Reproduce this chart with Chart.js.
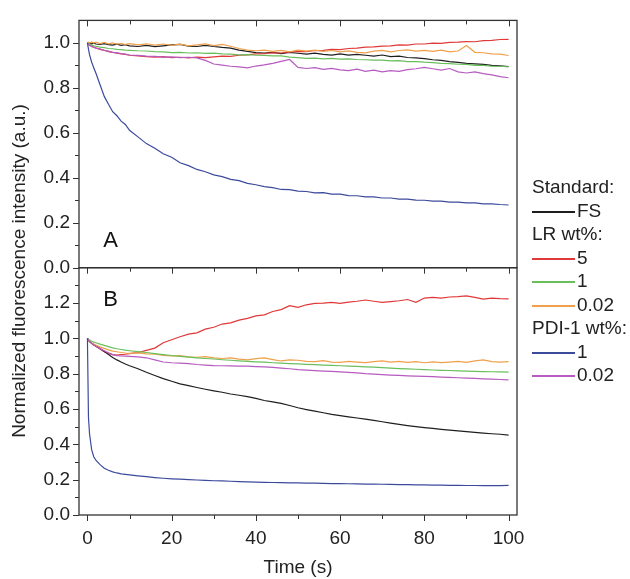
<!DOCTYPE html>
<html>
<head>
<meta charset="utf-8">
<script src="https://cdn.jsdelivr.net/npm/chart.js@4"></script>
<style>
  html, body { margin: 0; padding: 0; background: #fff; }
  #wrap { position: relative; width: 630px; height: 579px; }
  #legend { position: absolute; left: 532px; top: 175px; font: 19px 'Liberation Sans', Arial, sans-serif; color: #222; }
  #legend .row { position: absolute; left: 0; white-space: nowrap; height: 24px; line-height: 24px; }
  #legend .item { padding-left: 45px; }
  #legend .swatch { position: absolute; left: 0; top: 12px; width: 43px; height: 2px; }
</style>
</head>
<body>
<div id="wrap">
  <canvas id="fluoChart" width="630" height="579"></canvas>
  <div id="legend"></div>
</div>
<script>
// time axis (s)
const time = [0, 0.25, 0.5, 1, 1.5, 2, 3, 4, 5, 6, 7, 8, 9, 10,
    12, 14, 16, 18, 20, 22, 24, 26, 28, 30,
    32, 34, 36, 38, 40, 42, 44, 46, 48, 50,
    52, 54, 56, 58, 60, 62, 64, 66, 68, 70,
    72, 74, 76, 78, 80, 82, 84, 86, 88, 90,
    92, 94, 96, 98, 100];

// Panel A
const aFS = [1.000, 1.001, 0.998, 0.996, 0.999, 0.995, 0.993, 0.997, 0.992, 0.990, 0.994, 0.989, 0.992, 0.987,
    0.984, 0.989, 0.983, 0.987, 0.991, 0.993, 0.986, 0.984, 0.989, 0.984,
    0.980, 0.977, 0.968, 0.962, 0.957, 0.955, 0.958, 0.952, 0.958, 0.954,
    0.950, 0.954, 0.949, 0.946, 0.951, 0.946, 0.949, 0.945, 0.941, 0.946,
    0.939, 0.941, 0.935, 0.933, 0.930, 0.925, 0.922, 0.917, 0.913, 0.909,
    0.907, 0.904, 0.900, 0.898, 0.895];
const aLR5 = [1.000, 0.995, 0.990, 0.986, 0.981, 0.978, 0.971, 0.967, 0.961, 0.958, 0.954, 0.951, 0.949, 0.945,
    0.942, 0.939, 0.937, 0.939, 0.934, 0.936, 0.933, 0.937, 0.934, 0.938,
    0.941, 0.940, 0.945, 0.947, 0.951, 0.952, 0.956, 0.955, 0.960, 0.962,
    0.961, 0.966, 0.967, 0.971, 0.970, 0.975, 0.977, 0.981, 0.982, 0.986,
    0.987, 0.991, 0.990, 0.995, 0.995, 0.999, 0.998, 1.002, 1.003, 1.006,
    1.005, 1.010, 1.011, 1.015, 1.016];
const aLR1 = [1.000, 0.996, 0.992, 0.990, 0.987, 0.985, 0.981, 0.979, 0.975, 0.974, 0.971, 0.970, 0.968, 0.967,
    0.965, 0.964, 0.961, 0.960, 0.957, 0.958, 0.955, 0.956, 0.953, 0.954,
    0.951, 0.950, 0.947, 0.948, 0.945, 0.944, 0.942, 0.942, 0.937, 0.934,
    0.931, 0.932, 0.929, 0.931, 0.928, 0.929, 0.926, 0.925, 0.923, 0.923,
    0.920, 0.921, 0.917, 0.917, 0.914, 0.912, 0.909, 0.908, 0.905, 0.904,
    0.900, 0.900, 0.896, 0.896, 0.893];
const aLR002 = [1.000, 1.003, 0.998, 1.004, 0.999, 1.003, 0.997, 1.002, 0.996, 1.000, 0.994, 0.998, 0.993, 0.997,
    0.991, 0.996, 0.990, 0.995, 0.989, 0.994, 0.987, 0.991, 0.996, 0.988,
    0.993, 0.985, 0.975, 0.968, 0.965, 0.968, 0.962, 0.967, 0.960, 0.968,
    0.963, 0.968, 0.962, 0.966, 0.960, 0.964, 0.958, 0.956, 0.963, 0.967,
    0.960, 0.966, 0.969, 0.963, 0.967, 0.962, 0.968, 0.960, 0.964, 0.988,
    0.958, 0.956, 0.951, 0.950, 0.944];
const aPDI1 = [1.000, 0.972, 0.948, 0.915, 0.889, 0.866, 0.814, 0.762, 0.727, 0.694, 0.676, 0.652, 0.637, 0.611,
    0.582, 0.552, 0.531, 0.507, 0.491, 0.467, 0.454, 0.437, 0.427, 0.413,
    0.405, 0.393, 0.387, 0.375, 0.369, 0.361, 0.356, 0.348, 0.347, 0.341,
    0.339, 0.333, 0.334, 0.327, 0.327, 0.321, 0.320, 0.315, 0.315, 0.310,
    0.310, 0.305, 0.305, 0.301, 0.300, 0.296, 0.296, 0.292, 0.292, 0.288,
    0.288, 0.284, 0.284, 0.281, 0.279];
const aPDI002 = [1.000, 0.993, 0.989, 0.983, 0.981, 0.976, 0.973, 0.966, 0.963, 0.958, 0.957, 0.952, 0.950, 0.946,
    0.944, 0.941, 0.940, 0.937, 0.938, 0.934, 0.936, 0.933, 0.922, 0.906,
    0.901, 0.896, 0.893, 0.889, 0.897, 0.902, 0.909, 0.918, 0.926, 0.891,
    0.886, 0.890, 0.882, 0.887, 0.880, 0.877, 0.883, 0.873, 0.879, 0.871,
    0.877, 0.873, 0.881, 0.885, 0.891, 0.885, 0.879, 0.886, 0.871, 0.866,
    0.871, 0.863, 0.858, 0.850, 0.845];

// Panel B
const bFS = [1.000, 0.990, 0.982, 0.972, 0.964, 0.957, 0.943, 0.925, 0.908, 0.892, 0.878, 0.866, 0.855, 0.845,
    0.828, 0.808, 0.790, 0.772, 0.757, 0.742, 0.732, 0.722, 0.712, 0.703,
    0.695, 0.685, 0.678, 0.670, 0.660, 0.648, 0.640, 0.632, 0.620, 0.607,
    0.597, 0.588, 0.579, 0.570, 0.563, 0.556, 0.549, 0.543, 0.536, 0.528,
    0.520, 0.513, 0.506, 0.500, 0.495, 0.490, 0.485, 0.480, 0.476, 0.472,
    0.468, 0.464, 0.460, 0.457, 0.452];
const bLR5 = [1.000, 0.990, 0.982, 0.972, 0.963, 0.955, 0.940, 0.925, 0.915, 0.908, 0.905, 0.908, 0.910, 0.914,
    0.920, 0.932, 0.945, 0.975, 0.992, 1.009, 1.024, 1.031, 1.052, 1.063,
    1.081, 1.088, 1.103, 1.113, 1.127, 1.133, 1.152, 1.163, 1.185, 1.176,
    1.190, 1.198, 1.200, 1.204, 1.198, 1.205, 1.210, 1.217, 1.210, 1.204,
    1.208, 1.213, 1.220, 1.204, 1.228, 1.232, 1.228, 1.234, 1.236, 1.240,
    1.232, 1.222, 1.228, 1.225, 1.224];
const bLR1 = [1.000, 0.995, 0.990, 0.984, 0.979, 0.975, 0.967, 0.960, 0.953, 0.946, 0.941, 0.937, 0.933, 0.930,
    0.925, 0.920, 0.914, 0.908, 0.903, 0.898, 0.894, 0.890, 0.886, 0.883,
    0.879, 0.876, 0.873, 0.870, 0.867, 0.865, 0.862, 0.860, 0.857, 0.855,
    0.853, 0.851, 0.849, 0.847, 0.845, 0.843, 0.841, 0.839, 0.837, 0.834,
    0.832, 0.829, 0.827, 0.825, 0.823, 0.821, 0.819, 0.818, 0.816, 0.815,
    0.813, 0.812, 0.811, 0.810, 0.809];
const bLR002 = [1.000, 0.990, 0.983, 0.975, 0.968, 0.962, 0.952, 0.943, 0.935, 0.928, 0.924, 0.920, 0.917, 0.915,
    0.918, 0.912, 0.910, 0.904, 0.900, 0.902, 0.895, 0.893, 0.897, 0.890,
    0.886, 0.889, 0.882, 0.878, 0.885, 0.889, 0.880, 0.872, 0.878, 0.876,
    0.870, 0.868, 0.874, 0.866, 0.864, 0.870, 0.866, 0.863, 0.868, 0.872,
    0.866, 0.870, 0.864, 0.868, 0.862, 0.867, 0.863, 0.866, 0.870, 0.864,
    0.872, 0.878, 0.868, 0.866, 0.868];
const bPDI1 = [1.000, 0.550, 0.460, 0.370, 0.330, 0.310, 0.285, 0.265, 0.253, 0.244, 0.238, 0.233, 0.230, 0.227,
    0.222, 0.217, 0.212, 0.208, 0.205, 0.203, 0.200, 0.198, 0.196, 0.194,
    0.193, 0.191, 0.189, 0.187, 0.186, 0.185, 0.184, 0.183, 0.182, 0.182,
    0.181, 0.180, 0.179, 0.178, 0.178, 0.177, 0.176, 0.175, 0.175, 0.174,
    0.173, 0.172, 0.172, 0.171, 0.170, 0.169, 0.169, 0.168, 0.168, 0.167,
    0.167, 0.166, 0.166, 0.166, 0.168];
const bPDI002 = [1.000, 0.990, 0.982, 0.972, 0.963, 0.955, 0.942, 0.930, 0.918, 0.908, 0.902, 0.900, 0.899, 0.898,
    0.895, 0.890, 0.878, 0.866, 0.862, 0.860, 0.857, 0.852, 0.849, 0.846,
    0.845, 0.844, 0.843, 0.843, 0.840, 0.838, 0.836, 0.832, 0.828, 0.823,
    0.820, 0.817, 0.815, 0.813, 0.810, 0.807, 0.805, 0.800, 0.798, 0.795,
    0.792, 0.790, 0.788, 0.786, 0.785, 0.783, 0.781, 0.779, 0.777, 0.775,
    0.773, 0.771, 0.769, 0.767, 0.765];

const xTicks = [0, 20, 40, 60, 80, 100];
const yTicksA = [0, 0.2, 0.4, 0.6, 0.8, 1.0];
const yTicksB = [0, 0.2, 0.4, 0.6, 0.8, 1.0, 1.2];

const colors = {
    fs: '#1e1e1e',
    lr5: '#e0393a',
    lr1: '#6abf5c',
    lr002: '#f0a04b',
    pdi1: '#3c4a9c',
    pdi002: '#b65bbf'
};

const legendGroups = [
    { title: 'Standard:', items: [['FS', colors.fs]] },
    { title: 'LR wt%:', items: [['5', colors.lr5], ['1', colors.lr1], ['0.02', colors.lr002]] },
    { title: 'PDI-1 wt%:', items: [['1', colors.pdi1], ['0.02', colors.pdi002]] }
];

const FONT = "'Liberation Sans', Arial, sans-serif";

function series(values, color, axis) {
    return {
        data: time.map((t, i) => ({ x: t, y: values[i] })),
        yAxisID: axis,
        borderColor: color,
        borderWidth: 1.2,
        pointRadius: 0,
        fill: false,
        tension: 0
    };
}

// frame, inward/outward ticks, panel letters and shared y title
const framePlugin = {
    id: 'framePlugin',
    afterDatasetsDraw(chart) {
        const ctx = chart.ctx;
        const x = chart.scales.x, yA = chart.scales.yA, yB = chart.scales.yB;
        const left = chart.chartArea.left, right = chart.chartArea.right;
        ctx.save();
        ctx.strokeStyle = '#333';
        ctx.lineWidth = 1.3;
        [yA, yB].forEach(s => ctx.strokeRect(left, s.top, right - left, s.bottom - s.top));

        ctx.lineWidth = 1;
        ctx.beginPath();
        for (let t = 0; t <= 100; t += 10) {
            const px = Math.round(x.getPixelForValue(t)) + 0.5;
            const len = t % 20 === 0 ? 6 : 4;
            ctx.moveTo(px, yA.top); ctx.lineTo(px, yA.top + len);
            ctx.moveTo(px, yB.top); ctx.lineTo(px, yB.top + len);
            ctx.moveTo(px, yB.bottom); ctx.lineTo(px, yB.bottom + len);
        }
        [[yA, 10], [yB, 13]].forEach(([s, n]) => {
            for (let k = 0; k <= n; k++) {
                const py = Math.round(s.getPixelForValue(k / 10)) + 0.5;
                const len = k % 2 === 0 ? 6 : 4;
                ctx.moveTo(left - len, py); ctx.lineTo(left, py);
            }
        });
        ctx.stroke();

        ctx.fillStyle = '#111';
        ctx.font = '22px ' + FONT;
        ctx.textAlign = 'center';
        ctx.textBaseline = 'middle';
        ctx.fillText('A', x.getPixelForValue(5.5), yA.getPixelForValue(0.117));
        ctx.fillText('B', x.getPixelForValue(5.5), yB.getPixelForValue(1.217));

        ctx.font = '19px ' + FONT;
        ctx.fillStyle = '#222';
        ctx.translate(20, 271);
        ctx.rotate(-Math.PI / 2);
        ctx.fillText('Normalized fluorescence intensity (a.u.)', 0, 0);
        ctx.restore();
    }
};

const fluoData = {
    datasets: [
        series(aPDI1, colors.pdi1, 'yA'),
        series(aPDI002, colors.pdi002, 'yA'),
        series(aLR1, colors.lr1, 'yA'),
        series(aLR002, colors.lr002, 'yA'),
        series(aLR5, colors.lr5, 'yA'),
        series(aFS, colors.fs, 'yA'),
        series(bPDI1, colors.pdi1, 'yB'),
        series(bPDI002, colors.pdi002, 'yB'),
        series(bLR1, colors.lr1, 'yB'),
        series(bLR002, colors.lr002, 'yB'),
        series(bFS, colors.fs, 'yB'),
        series(bLR5, colors.lr5, 'yB')
    ]
};

const tickFont = { family: FONT, size: 19 };

const fluoConfig = {
    type: 'line',
    data: fluoData,
    plugins: [framePlugin],
    options: {
        responsive: false,
        animation: false,
        layout: { padding: { left: 0, right: 113, top: 15, bottom: 0 } },
        plugins: { legend: { display: false }, tooltip: { enabled: false } },
        scales: {
            x: {
                type: 'linear',
                min: -2,
                max: 102,
                afterBuildTicks: s => { s.ticks = xTicks.map(v => ({ value: v })); },
                afterFit: s => { s.height = 64; },
                grid: { display: false, drawTicks: false },
                border: { display: false },
                ticks: { font: tickFont, color: '#222', padding: 12, maxRotation: 0, autoSkip: false },
                title: { display: true, text: 'Time (s)', font: tickFont, color: '#222', padding: { top: 0, bottom: 0 } }
            },
            yB: {
                type: 'linear',
                position: 'left',
                stack: 'panels',
                stackWeight: 1,
                min: 0,
                max: 1.4,
                afterBuildTicks: s => { s.ticks = yTicksB.map(v => ({ value: v })); },
                afterFit: s => { s.width = 79; },
                grid: { display: false, drawTicks: false },
                border: { display: false },
                ticks: { font: tickFont, color: '#222', padding: 9, autoSkip: false, callback: v => v.toFixed(1) }
            },
            yA: {
                type: 'linear',
                position: 'left',
                stack: 'panels',
                stackWeight: 1,
                min: 0,
                max: 1.1,
                afterBuildTicks: s => { s.ticks = yTicksA.map(v => ({ value: v })); },
                afterFit: s => { s.width = 79; },
                grid: { display: false, drawTicks: false },
                border: { display: false },
                ticks: { font: tickFont, color: '#222', padding: 9, autoSkip: false, callback: v => v.toFixed(1) }
            }
        }
    }
};

const fluoChart = new Chart(document.getElementById('fluoChart').getContext('2d'), fluoConfig);

// Legend with group headings, rows on whole pixels
const legendBox = document.getElementById('legend');
let rowIndex = 0;
function addRow(el, cls) {
    el.className = cls;
    el.style.top = Math.round(rowIndex * 23.5) + 'px';
    legendBox.appendChild(el);
    rowIndex++;
}
legendGroups.forEach(g => {
    const head = document.createElement('div');
    head.textContent = g.title;
    addRow(head, 'row');
    g.items.forEach(([label, color]) => {
        const row = document.createElement('div');
        const sw = document.createElement('span');
        sw.className = 'swatch';
        sw.style.backgroundColor = color;
        row.appendChild(sw);
        row.appendChild(document.createTextNode(label));
        addRow(row, 'row item');
    });
});
</script>
</body>
</html>
